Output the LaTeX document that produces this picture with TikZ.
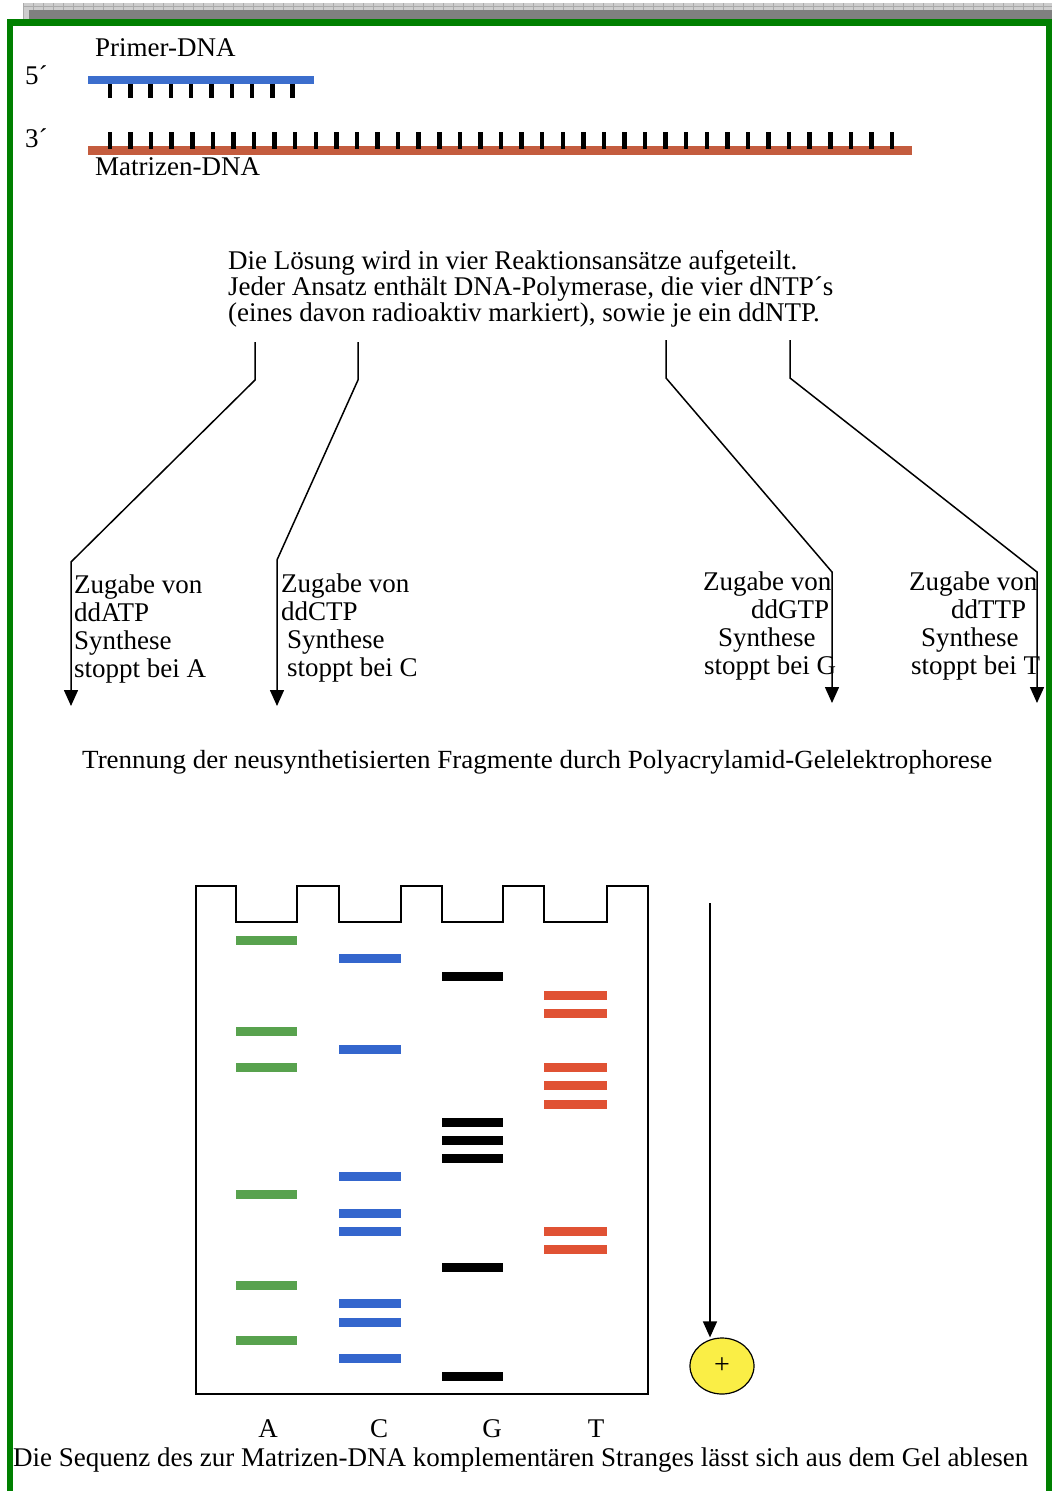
\documentclass[tikz,border=0pt]{standalone}
\usepackage{fontspec}
\setmainfont{Liberation Serif}
\usetikzlibrary{arrows.meta,shapes.geometric}
\definecolor{framegreen}{RGB}{0,128,0}
\definecolor{barlight}{RGB}{205,205,205}
\definecolor{bargrid}{RGB}{170,170,170}
\definecolor{bardark}{RGB}{128,128,128}
\definecolor{primerblue}{RGB}{60,110,205}
\definecolor{templred}{RGB}{196,92,62}
\definecolor{bandgreen}{RGB}{88,162,78}
\definecolor{bandblue}{RGB}{52,102,205}
\definecolor{bandred}{RGB}{224,82,52}
\definecolor{plusyellow}{RGB}{250,238,70}
\begin{document}
\begin{tikzpicture}[x=1pt,y=-1pt,
  lbl/.style={inner sep=0pt, anchor=base west, font=\fontsize{27}{28}\selectfont},
  conn/.style={line width=1.5pt, -{Triangle[length=16pt,width=14pt]}},
  tick/.style={line width=4.5pt},
  gel/.style={line width=2.5pt, line join=miter}]
\useasboundingbox (0,0) rectangle (1052,1491);
\fill[white] (0,0) rectangle (1052,1491);
% top grey bar
\fill[barlight] (23,3) rectangle (1052,19);
\foreach \gx in {23,33,...,1052} \draw[bargrid, line width=0.5pt] (\gx,3) -- (\gx,19);
\draw[bargrid, line width=0.5pt] (23,6.5) -- (1052,6.5);
\fill[bardark] (29,10) rectangle (1052,19);
% green frame
\fill[framegreen] (7,19) rectangle (1052,26);
\fill[framegreen] (7,19) rectangle (13,1491);
\fill[framegreen] (1046,19) rectangle (1052,1491);
% DNA strands
\node[lbl] (primerlbl) at (95,56) {Primer-DNA};
\node[lbl] (five) at (25,84) {5´};
\node[lbl] (three) at (25,147) {3´};
\fill[primerblue] (88,76) rectangle (314,84);
\foreach \i in {0,...,9} \draw[tick] ({110+20.3*\i},84) -- ({110+20.3*\i},98);
\fill[templred] (88,146) rectangle (912,155);
\foreach \i in {0,...,38} \draw[tick] ({110+20.58*\i},132) -- ({110+20.58*\i},149);
\node[lbl] (matrlbl) at (95,175) {Matrizen-DNA};
% explanation block
\node[lbl] (l1) at (228,269) {Die Lösung wird in vier Reaktionsansätze aufgeteilt.};
\node[lbl] (l2) at (228,295) {Jeder Ansatz enthält DNA-Polymerase, die vier dNTP´s};
\node[lbl] (l3) at (228,321) {(eines davon radioaktiv markiert), sowie je ein ddNTP.};
% connectors
\coordinate (sa) at (255,342); \coordinate (ta) at (71,706);
\coordinate (sb) at (358,342); \coordinate (tb) at (277,706);
\coordinate (sc) at (666,340); \coordinate (tc) at (832,703);
\coordinate (sd) at (790,340); \coordinate (td) at (1037,703);
\draw[conn] (sa) -- (255,380) -- (71,562) -- (ta);
\draw[conn] (sb) -- (358,380) -- (277,560) -- (tb);
\draw[conn] (sc) -- (666,378) -- (832,572) -- (tc);
\draw[conn] (sd) -- (790,378) -- (1037,572) -- (td);
% reaction labels
\node[lbl] (a1) at (74,593) {Zugabe von};
\node[lbl] (a2) at (74,621) {ddATP};
\node[lbl] (a3) at (74,649) {Synthese};
\node[lbl] (a4) at (74,677) {stoppt bei A};
\node[lbl] (b1) at (281,592) {Zugabe von};
\node[lbl] (b2) at (281,620) {ddCTP};
\node[lbl] (b3) at (287,648) {Synthese};
\node[lbl] (b4) at (287,676) {stoppt bei C};
\node[lbl] (c1) at (703,590) {Zugabe von};
\node[lbl] (c2) at (751,618) {ddGTP};
\node[lbl] (c3) at (718,646) {Synthese};
\node[lbl] (c4) at (704,674) {stoppt bei G};
\node[lbl] (d1) at (909,590) {Zugabe von};
\node[lbl] (d2) at (951,618) {ddTTP};
\node[lbl] (d3) at (921,646) {Synthese};
\node[lbl] (d4) at (911,674) {stoppt bei T};
% separation text
\node[lbl] (trenn) at (82,768) {\scalebox{1.0}[0.97]{Trennung der neusynthetisierten Fragmente durch Polyacrylamid-Gelelektrophorese}};
% gel
\draw[gel] (196,886) -- (236,886) -- (236,922) -- (297,922) -- (297,886) -- (339,886) -- (339,922) -- (401,922) -- (401,886) -- (442,886) -- (442,922) -- (503,922) -- (503,886) -- (544,886) -- (544,922) -- (607,922) -- (607,886) -- (648,886) -- (648,1394) -- (196,1394) -- cycle;
\foreach \k in {0,5,7,14,19,22} \fill[bandgreen] (236,{936+18.17*\k}) rectangle (297,{945+18.17*\k});
\foreach \k in {1,6,13,15,16,20,21,23} \fill[bandblue] (339,{936+18.17*\k}) rectangle (401,{945+18.17*\k});
\foreach \k in {2,10,11,12,18,24} \fill[black] (442,{936+18.17*\k}) rectangle (503,{945+18.17*\k});
\foreach \k in {3,4,7,8,9,16,17} \fill[bandred] (544,{936+18.17*\k}) rectangle (607,{945+18.17*\k});
% anode
\node[ellipse, draw, line width=1.2pt, fill=plusyellow, minimum width=64pt, minimum height=56pt, inner sep=0pt, font=\fontsize{28}{28}\selectfont] (plus) at (722,1366) {+};
\coordinate (gtop) at (710,903);
\draw[conn] (gtop) -- (gtop |- plus.north);
% lane letters
\node[lbl, anchor=base] (la) at (268,1437) {A};
\node[lbl, anchor=base] (lc) at (379,1437) {C};
\node[lbl, anchor=base] (lg) at (492,1437) {G};
\node[lbl, anchor=base] (lt) at (596,1437) {T};
\node[lbl] (bottom) at (13,1466) {Die Sequenz des zur Matrizen-DNA komplementären Stranges lässt sich aus dem Gel ablesen};
\end{tikzpicture}
\end{document}
